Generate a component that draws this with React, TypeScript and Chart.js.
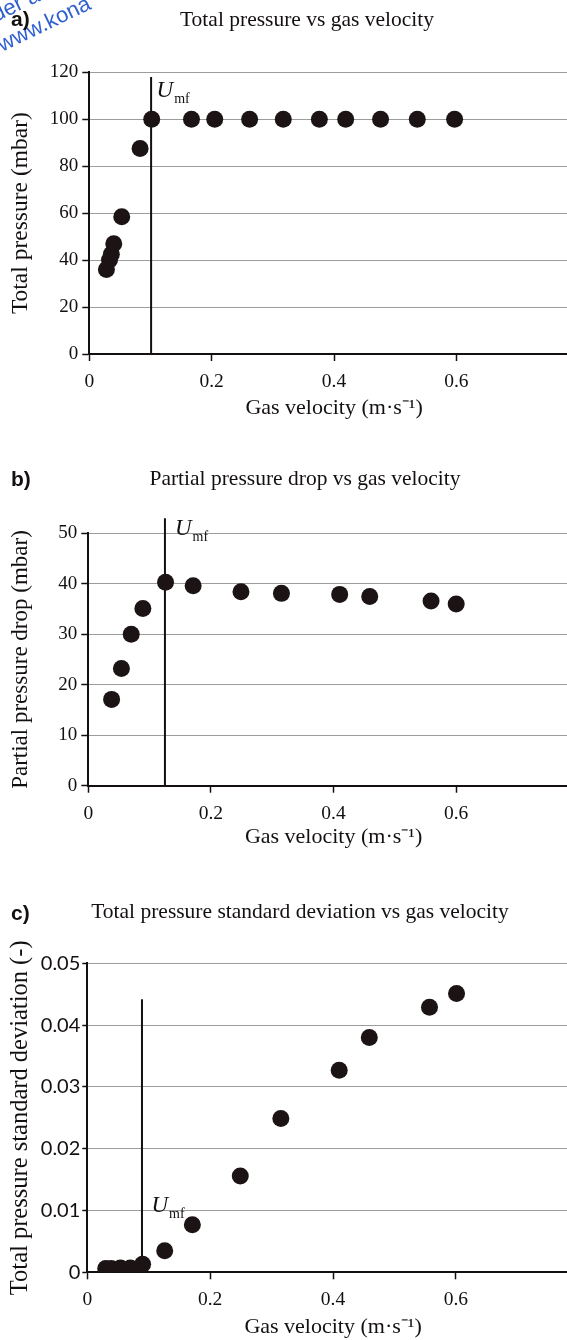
import React, { useEffect, useRef } from "react";
import { Chart, registerables } from "chart.js";

Chart.register(...registerables);

const SERIF = '"Liberation Serif", "Times New Roman", serif';
const SANS = '"Liberation Sans", Arial, sans-serif';

// ---- Panel a: total pressure ----
const velocityA = [0.028, 0.033, 0.036, 0.04, 0.053, 0.083, 0.102, 0.167, 0.205, 0.262, 0.317, 0.376, 0.419, 0.476, 0.536, 0.597];
const pressureA = [36, 40, 42.5, 47, 58.5, 87.5, 100, 100, 100, 100, 100, 100, 100, 100, 100, 100];
const umfA = 0.101;
const umfTopA = 118;
const yTicksA = [0, 20, 40, 60, 80, 100, 120];

// ---- Panel b: partial pressure drop ----
const velocityB = [0.038, 0.054, 0.07, 0.089, 0.126, 0.171, 0.249, 0.315, 0.41, 0.459, 0.559, 0.6];
const dropB = [17.1, 23.2, 30.0, 35.1, 40.3, 39.6, 38.4, 38.1, 37.9, 37.5, 36.6, 36.0];
const umfB = 0.125;
const umfTopB = 53;
const yTicksB = [0, 10, 20, 30, 40, 50];

// ---- Panel c: total pressure standard deviation ----
const velocityC = [0.03, 0.039, 0.054, 0.07, 0.09, 0.126, 0.171, 0.249, 0.315, 0.41, 0.459, 0.557, 0.601];
const stdC = [0.0006, 0.0006, 0.0007, 0.0007, 0.0013, 0.0035, 0.0077, 0.0156, 0.0249, 0.0327, 0.038, 0.0429, 0.0451];
const umfC = 0.089;
const umfTopC = 0.0442;
const yTicksC = [0, 0.01, 0.02, 0.03, 0.04, 0.05];

const xTicks = [0, 0.2, 0.4, 0.6, 0.8];

const INK = "#141010";
const DOT = "#1c1414";
const GRID = "#9c9c9c";

type PanelProps = {
  top: number;
  height: number;
  areaTop: number;
  areaBottom: number;
  axisX: number;
  xs: number[];
  ys: number[];
  yMax: number;
  yTicks: number[];
  umf: number;
  umfTop: number;
  yTitle: string;
  yTitleSize: number;
  yTitlePad: number;
  yTickFont: string;
  yTickSize: number;
  yTickLen: number;
  yTickPad: number;
  letter: string;
  letterY: number;
  title: string;
  titleX: number;
  titleY: number;
  labelDx: number;
  labelY: number;
  watermark?: boolean;
};

const W = 600;

function Panel(p: PanelProps) {
  const ref = useRef<HTMLCanvasElement | null>(null);
  useEffect(() => {
    if (!ref.current) return;
    const annot = {
      id: "annot",
      afterDraw(chart: any) {
        const ctx = chart.ctx as CanvasRenderingContext2D;
        const xs = chart.scales.x;
        const ys = chart.scales.y;
        ctx.save();
        ctx.fillStyle = INK;
        ctx.textBaseline = "alphabetic";
        // title
        ctx.textAlign = "center";
        ctx.font = `21.5px ${SERIF}`;
        ctx.fillText(p.title, p.titleX, p.titleY);
        // Umf label
        const px = xs.getPixelForValue(p.umf) + p.labelDx;
        const py = ys.getPixelForValue(p.labelY);
        ctx.textAlign = "left";
        ctx.font = `italic 23px ${SERIF}`;
        ctx.fillText("U", px, py);
        const w = ctx.measureText("U").width;
        ctx.font = `14px ${SERIF}`;
        ctx.fillText("mf", px + w + 1, py + 6);
        // watermark
        if (p.watermark) {
          ctx.fillStyle = "#2f5fd0";
          ctx.font = `22px ${SANS}`;
          ctx.save();
          ctx.translate(-4, 22);
          ctx.rotate(-0.45);
          ctx.fillText("der a", 0, 0);
          ctx.restore();
          ctx.save();
          ctx.translate(2, 52);
          ctx.rotate(-0.45);
          ctx.fillText("www.kona", 0, 0);
          ctx.restore();
        }
        // panel letter
        ctx.fillStyle = INK;
        ctx.font = `bold 21px ${SANS}`;
        ctx.textAlign = "left";
        ctx.fillText(p.letter, 11, p.letterY);
        ctx.restore();
      },
    };

    const chart = new Chart(ref.current, {
      type: "scatter",
      data: {
        datasets: [
          {
            label: "data",
            data: p.xs.map((x, i) => ({ x, y: p.ys[i] })),
            backgroundColor: DOT,
            borderColor: DOT,
            borderWidth: 0,
            pointRadius: 8.5,
            pointHoverRadius: 8.5,
            showLine: false,
          },
          {
            label: "Umf",
            data: [
              { x: p.umf, y: 0 },
              { x: p.umf, y: p.umfTop },
            ],
            showLine: true,
            borderColor: INK,
            borderWidth: 2,
            pointRadius: 0,
            clip: false,
          } as any,
        ],
      },
      options: {
        responsive: false,
        animation: false,
        events: [],
        layout: { padding: { top: p.areaTop, right: W - 584, left: 0, bottom: 0 } },
        plugins: {
          legend: { display: false },
          tooltip: { enabled: false },
          title: { display: false },
        },
        scales: {
          x: {
            type: "linear",
            min: 0,
            max: 0.8,
            afterBuildTicks: (s: any) => {
              s.ticks = xTicks.map((v) => ({ value: v }));
            },
            afterFit: (s: any) => {
              s.height = p.height - p.areaBottom;
            },
            border: { color: INK, width: 2 },
            grid: { drawOnChartArea: false, tickColor: INK, tickLength: 7, tickWidth: 1.5 },
            ticks: {
              font: { family: SERIF, size: 19.5 },
              color: INK,
              padding: 9,
              maxRotation: 0,
              autoSkip: false,
            },
            title: {
              display: true,
              text: "Gas velocity (m·s⁻¹)",
              font: { family: SERIF, size: 22 },
              color: INK,
              padding: { top: 0, bottom: 0 },
            },
          },
          y: {
            type: "linear",
            min: 0,
            max: p.yMax,
            afterBuildTicks: (s: any) => {
              s.ticks = p.yTicks.map((v) => ({ value: v }));
            },
            afterFit: (s: any) => {
              s.width = p.axisX;
            },
            border: { color: INK, width: 2 },
            grid: { color: GRID, lineWidth: 1, tickColor: INK, tickLength: p.yTickLen, tickWidth: 1.5 },
            ticks: {
              font: { family: p.yTickFont, size: p.yTickSize },
              color: INK,
              padding: p.yTickPad,
              autoSkip: false,
            },
            title: {
              display: true,
              text: p.yTitle,
              font: { family: SERIF, size: p.yTitleSize },
              color: INK,
              padding: { top: p.yTitlePad, bottom: 0 },
            },
          },
        },
      },
      plugins: [annot],
    } as any);
    return () => chart.destroy();
  }, []);
  return (
    <canvas
      ref={ref}
      width={W}
      height={p.height}
      style={{ position: "absolute", left: 0, top: p.top, width: W, height: p.height, display: "block" }}
    />
  );
}

export default function App() {
  return (
    <div
      style={{
        position: "absolute",
        left: 0,
        top: 0,
        width: 567,
        height: 1340,
        overflow: "hidden",
        background: "#ffffff",
      }}
    >
      <Panel
        top={0}
        height={421}
        areaTop={72.3}
        areaBottom={354}
        axisX={89.3}
        xs={velocityA}
        ys={pressureA}
        yMax={120}
        yTicks={yTicksA}
        umf={umfA}
        umfTop={umfTopA}
        yTitle="Total pressure (mbar)"
        yTitleSize={23.5}
        yTitlePad={7}
        yTickFont={SERIF}
        yTickSize={19}
        yTickLen={7}
        yTickPad={4}
        letter="a)"
        letterY={26}
        title="Total pressure vs gas velocity"
        titleX={307}
        titleY={26}
        labelDx={5.5}
        labelY={109.5}
        watermark
      />
      <Panel
        top={420}
        height={430}
        areaTop={113.3}
        areaBottom={365.7}
        axisX={88.3}
        xs={velocityB}
        ys={dropB}
        yMax={50}
        yTicks={yTicksB}
        umf={umfB}
        umfTop={umfTopB}
        yTitle="Partial pressure drop (mbar)"
        yTitleSize={23}
        yTitlePad={7}
        yTickFont={SERIF}
        yTickSize={19}
        yTickLen={7}
        yTickPad={4}
        letter="b)"
        letterY={66}
        title="Partial pressure drop vs gas velocity"
        titleX={305}
        titleY={65}
        labelDx={10}
        labelY={49.7}
      />
      <Panel
        top={850}
        height={490}
        areaTop={113.3}
        areaBottom={422.3}
        axisX={87.3}
        xs={velocityC}
        ys={stdC}
        yMax={0.05}
        yTicks={yTicksC}
        umf={umfC}
        umfTop={umfTopC}
        yTitle="Total pressure standard deviation (-)"
        yTitleSize={24.5}
        yTitlePad={6}
        yTickFont={'Lato, "Open Sans", sans-serif'}
        yTickSize={20}
        yTickLen={5}
        yTickPad={2}
        letter="c)"
        letterY={70}
        title="Total pressure standard deviation vs gas velocity"
        titleX={300}
        titleY={68}
        labelDx={9.5}
        labelY={0.00976}
      />
    </div>
  );
}
